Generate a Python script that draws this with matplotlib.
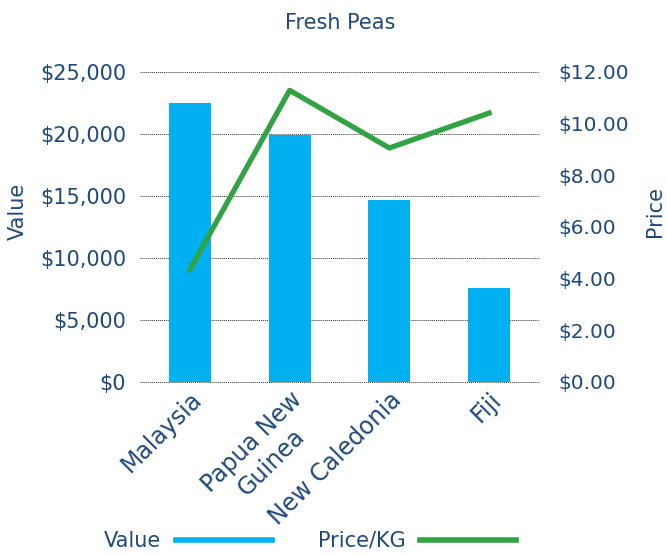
import matplotlib
matplotlib.use("Agg")
import matplotlib.pyplot as plt
from matplotlib.lines import Line2D
from matplotlib.ticker import FuncFormatter, MultipleLocator

categories = ["Malaysia", "Papua New\nGuinea", "New Caledonia", "Fiji"]
values = [22500, 19900, 14650, 7600]
prices = [4.35, 11.28, 9.05, 10.40]

TXT = "#1F497D"
BAR = "#00B0F0"
GRN = "#31A343"

plt.rcParams['font.family'] = ['DejaVu Sans']

fig = plt.figure(figsize=(6.67, 5.56), dpi=100)
ax = fig.add_axes([0.21, 0.313, 0.598, 0.558])
x = range(len(categories))
ax.bar(x, values, width=0.42, color=BAR, zorder=2)
ax.set_xlim(-0.5, 3.5)
ax.set_ylim(0, 25000)
ax.yaxis.set_major_locator(MultipleLocator(5000))
ax.yaxis.set_major_formatter(FuncFormatter(lambda v, p: f"${v:,.0f}"))
ax.grid(axis='y', linestyle=(0, (1, 1)), color='#303030', linewidth=0.7, zorder=0)
for gl in ax.get_ygridlines():
    gl.set_clip_on(False)
for s in ax.spines.values():
    s.set_visible(False)
ax.tick_params(axis='both', length=0, labelsize=15, labelcolor=TXT)
ax.tick_params(axis='y', pad=10)
ax.set_xticks(list(x))
ax.set_xticklabels(categories, rotation=45, ha='right', va='top',
                   rotation_mode='anchor', multialignment='center')
ax.tick_params(axis='x', pad=4, labelsize=17)

ax2 = ax.twinx()
ax2.plot(list(x), prices, color=GRN, linewidth=3.8, zorder=3)
ax2.set_ylim(0, 12)
ax2.yaxis.set_major_locator(MultipleLocator(2))
ax2.yaxis.set_major_formatter(FuncFormatter(lambda v, p: f"${v:.2f}"))
for s in ax2.spines.values():
    s.set_visible(False)
ax2.tick_params(axis='y', length=0, labelsize=14.5, labelcolor=TXT, pad=14)

fig.text(0.027, 0.62, "Value", rotation=90, ha='center', va='center', fontsize=15, color=TXT)
fig.text(0.982, 0.62, "Price", rotation=90, ha='center', va='center', fontsize=15, color=TXT)
fig.text(0.51, 0.958, "Fresh Peas", ha='center', va='center', fontsize=15, color=TXT)

handles = [Line2D([], [], color=BAR, linewidth=4),
           Line2D([], [], color=GRN, linewidth=4)]
leg = fig.legend(handles, ["Value", "Price/KG"], loc='center',
                 bbox_to_anchor=(0.465, 0.027), ncol=2, frameon=False,
                 markerfirst=False, fontsize=15, handlelength=4.6,
                 columnspacing=2.2, handletextpad=0.7)
for t in leg.get_texts():
    t.set_color(TXT)

fig.savefig("out.png", dpi=100)
